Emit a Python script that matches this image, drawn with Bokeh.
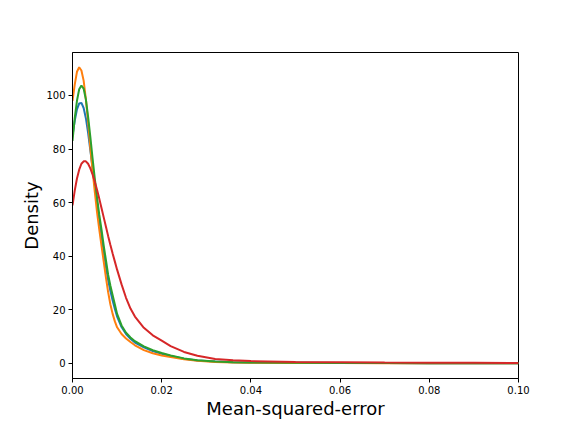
from bokeh.plotting import figure
from bokeh.models import Range1d, FixedTicker, PrintfTickFormatter
from bokeh.embed import file_html
from bokeh.resources import INLINE

x_vals = [0.0, 0.0005, 0.001, 0.0015, 0.002, 0.0025, 0.003, 0.0035, 0.004, 0.0045,
          0.005, 0.0055, 0.006, 0.0065, 0.007, 0.0075, 0.008, 0.0085, 0.009, 0.0095,
          0.010, 0.011, 0.012, 0.013, 0.014, 0.016, 0.018, 0.020, 0.022, 0.025,
          0.028, 0.032, 0.036, 0.04, 0.05, 0.06, 0.07, 0.08, 0.09, 0.1]

blue = [85, 90.5, 94.8, 97, 97.2, 95.3, 91.5, 86, 79.5, 73,
        66.5, 60, 53.5, 47.5, 41.5, 36, 31, 27, 23.5, 20.3,
        17.5, 13.6, 11.0, 9.2, 7.8, 6.0, 4.6, 3.6, 2.8, 1.8,
        1.1, 0.7, 0.5, 0.4, 0.28, 0.2, 0.15, 0.12, 0.1, 0.08]

orange = [98, 104, 108.8, 110.5, 109.3, 105.5, 98.5, 90, 80.5, 72,
          64, 56.5, 50, 44, 38, 32, 26.5, 22, 18.5, 15.7,
          13.5, 11.0, 9.3, 8.0, 6.8, 5.0, 3.8, 3.0, 2.4, 1.6,
          1.0, 0.6, 0.4, 0.3, 0.2, 0.15, 0.1, 0.08, 0.06, 0.05]

green = [83, 91.5, 98, 102.3, 103.7, 102.5, 98.5, 92, 84.5, 76.5,
         69, 62, 55.5, 50, 44, 38.5, 33, 29, 25.5, 22,
         18.5, 14.2, 11.5, 9.7, 8.3, 6.4, 5.0, 3.9, 3.0, 1.9,
         1.2, 0.7, 0.5, 0.4, 0.28, 0.2, 0.15, 0.12, 0.1, 0.08]

red = [59, 64.5, 69, 72.3, 74.5, 75.4, 75.4, 74.5, 72.8, 70.5,
       67.8, 64.8, 61.5, 58, 54.5, 51, 47.5, 44.2, 41, 38,
       35, 29.5, 24.5, 20.5, 17.5, 13.3, 10.5, 8.5, 6.5, 4.3,
       2.9, 1.7, 1.2, 0.9, 0.6, 0.45, 0.35, 0.3, 0.25, 0.2]

series = [blue, orange, green, red]
colors = ["#1f77b4", "#ff7f0e", "#2ca02c", "#d62728"]

x_ticks = [0.0, 0.02, 0.04, 0.06, 0.08, 0.10]
y_ticks = [0, 20, 40, 60, 80, 100]

p = figure(width=568, height=424, output_backend="svg", toolbar_location=None,
           x_range=Range1d(0, 0.1), y_range=Range1d(-5.6, 116),
           min_border_left=72, min_border_right=50, min_border_top=52, min_border_bottom=46)

for ys, c in zip(series, colors):
    p.line(x_vals, ys, line_color=c, line_width=2)

p.grid.visible = False
p.outline_line_color = "black"
p.outline_line_width = 1
p.outline_line_alpha = 1

p.xaxis.ticker = FixedTicker(ticks=x_ticks)
p.xaxis.formatter = PrintfTickFormatter(format="%.2f")
p.yaxis.ticker = FixedTicker(ticks=y_ticks)

for ax in (p.xaxis, p.yaxis):
    ax.axis_line_color = "black"
    ax.major_tick_line_color = "black"
    ax.major_tick_in = 0
    ax.major_tick_out = 4
    ax.minor_tick_line_color = None
    ax.major_label_text_font = "DejaVu Sans"
    ax.major_label_text_font_size = "10px"
    ax.major_label_text_color = "black"
    ax.axis_label_text_font = "DejaVu Sans"
    ax.axis_label_text_font_size = "18px"
    ax.axis_label_text_font_style = "normal"
    ax.axis_label_text_color = "black"
    ax.major_label_standoff = 3

p.xaxis.axis_label = "Mean-squared-error"
p.yaxis.axis_label = "Density"
p.xaxis.axis_label_standoff = 1
p.yaxis.axis_label_standoff = 1

open("out.html", "w").write(file_html(p, INLINE))
